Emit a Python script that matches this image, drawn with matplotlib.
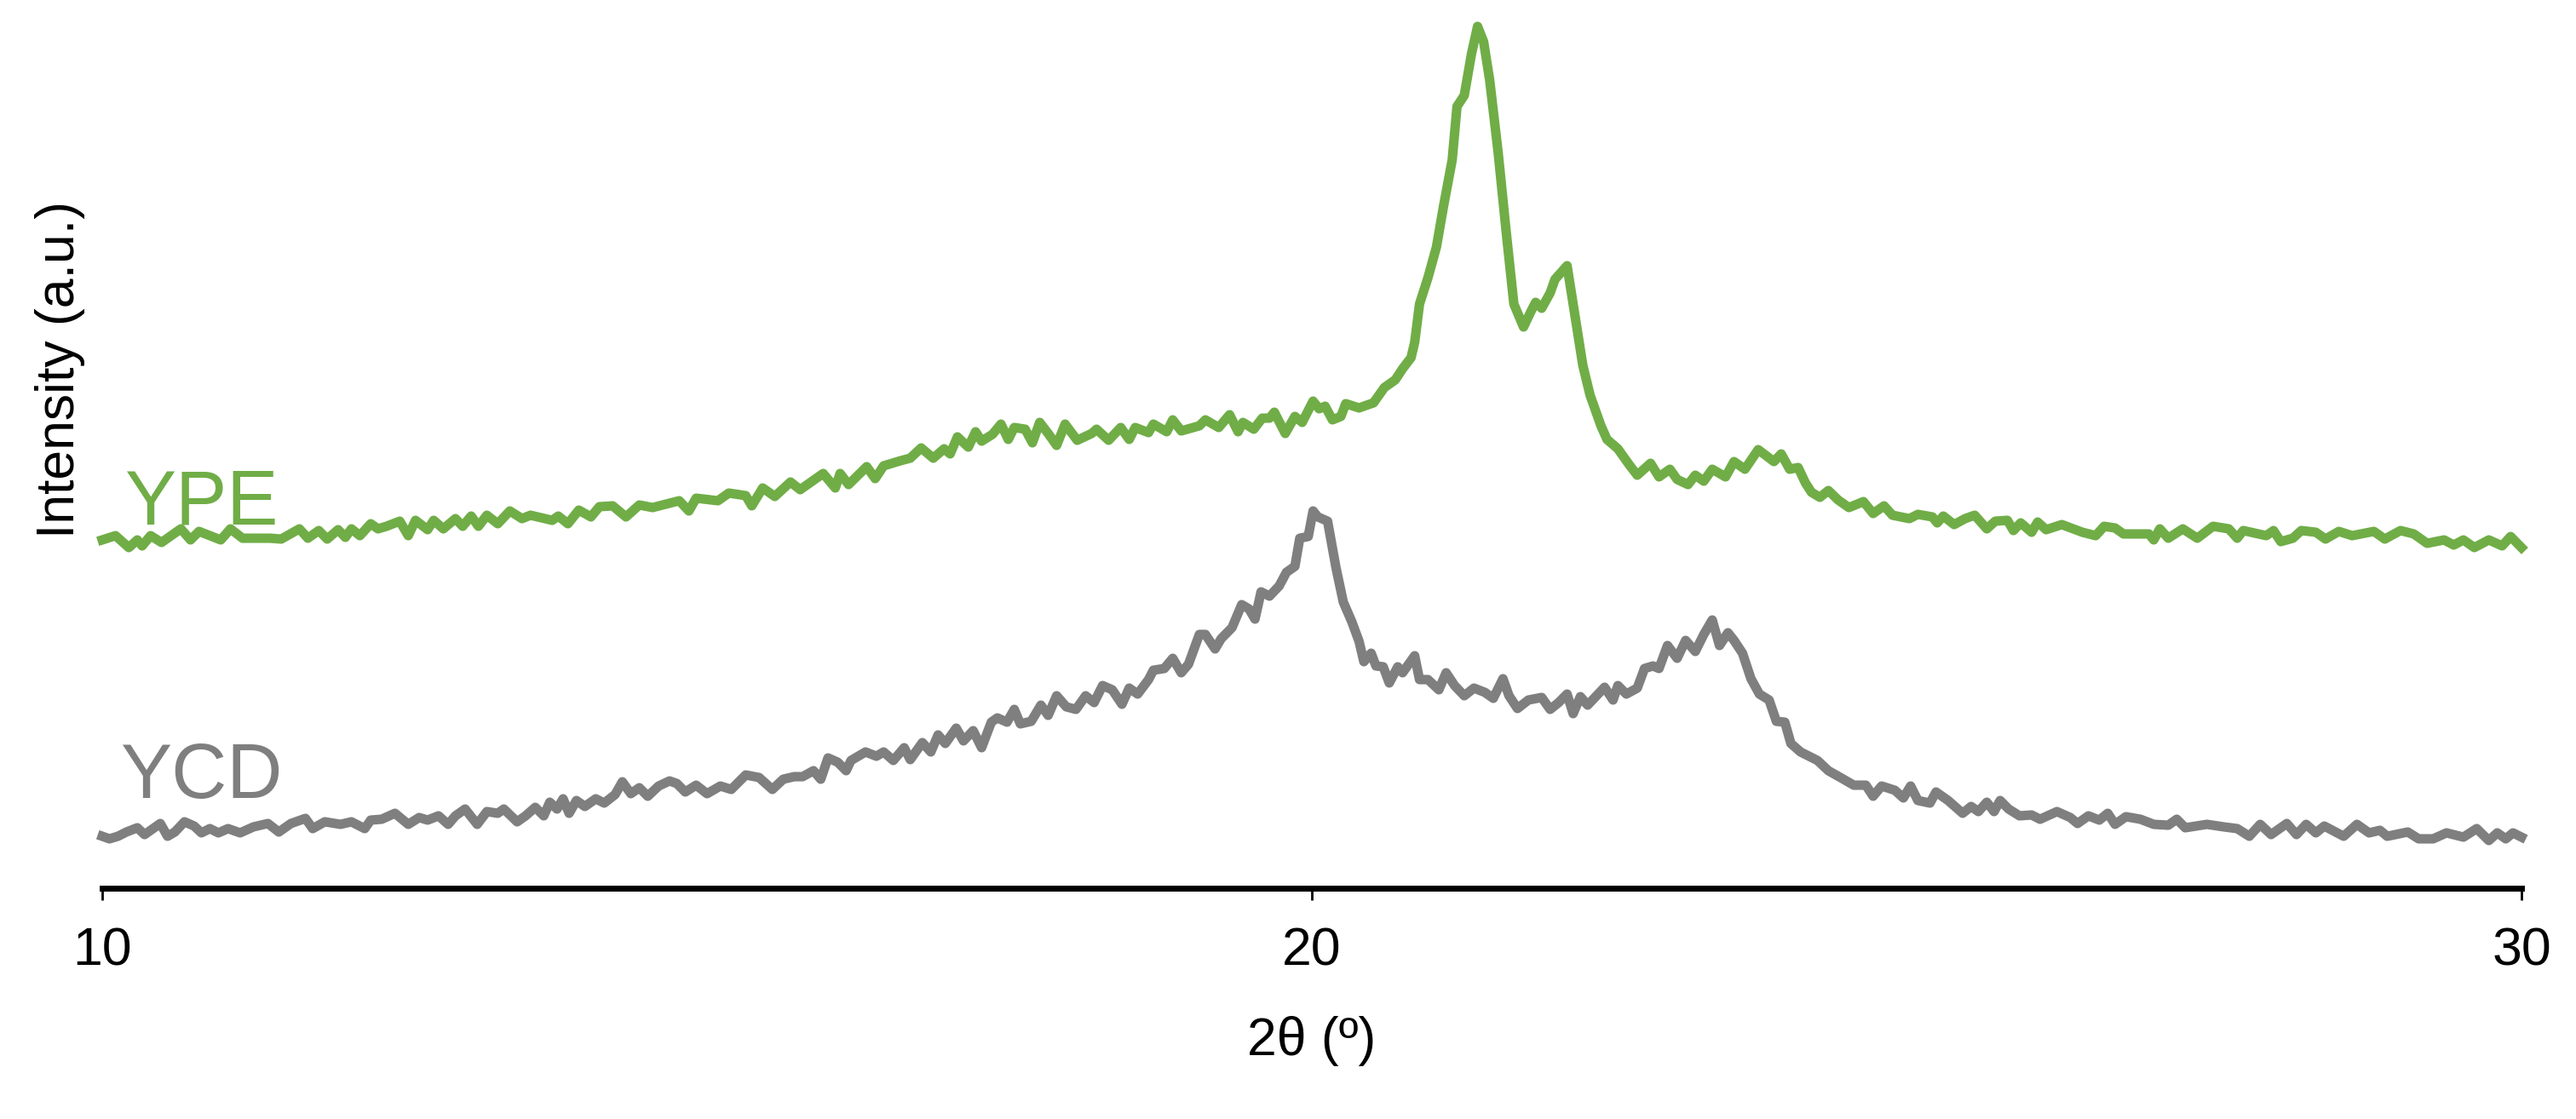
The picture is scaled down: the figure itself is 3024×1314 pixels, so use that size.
import numpy as np
import matplotlib.pyplot as plt

plt.rcParams['font.family'] = ['Liberation Sans', 'DejaVu Sans']

# XRD patterns (2theta in degrees, intensity in a.u.)
ype_2theta = [10.00, 10.11, 10.22, 10.29, 10.33, 10.40, 10.49, 10.65, 10.73, 10.80,
              10.98, 11.06, 11.16, 11.39, 11.48, 11.63, 11.70, 11.79, 11.86, 11.95,
              12.01, 12.06, 12.13, 12.22, 12.28, 12.35, 12.46, 12.53, 12.59, 12.69,
              12.74, 12.82, 12.92, 12.98, 13.05, 13.11, 13.18, 13.27, 13.37, 13.47,
              13.54, 13.72, 13.77, 13.85, 13.94, 14.04, 14.11, 14.22, 14.33, 14.44,
              14.55, 14.77, 14.85, 14.91, 15.09, 15.18, 15.32, 15.37, 15.46, 15.56,
              15.69, 15.77, 15.96, 16.06, 16.10, 16.17, 16.32, 16.39, 16.46, 16.60,
              16.68, 16.77, 16.87, 16.96, 17.01, 17.07, 17.16, 17.22, 17.27, 17.36,
              17.43, 17.49, 17.54, 17.63, 17.69, 17.75, 17.82, 17.89, 17.96, 18.06,
              18.18, 18.22, 18.32, 18.42, 18.49, 18.54, 18.65, 18.69, 18.80, 18.85,
              18.92, 19.07, 19.12, 19.23, 19.32, 19.39, 19.43, 19.52, 19.59, 19.65,
              19.69, 19.78, 19.86, 19.92, 20.01, 20.06, 20.11, 20.17, 20.24, 20.28,
              20.39, 20.51, 20.60, 20.69, 20.75, 20.82, 20.85, 20.89, 20.96, 21.03,
              21.09, 21.16, 21.20, 21.26, 21.32, 21.37, 21.42, 21.47, 21.54, 21.61,
              21.67, 21.75, 21.81, 21.85, 21.90, 21.97, 22.01, 22.11, 22.17, 22.24,
              22.30, 22.39, 22.44, 22.53, 22.62, 22.69, 22.80, 22.87, 22.96, 23.02,
              23.11, 23.17, 23.24, 23.31, 23.42, 23.49, 23.58, 23.69, 23.82, 23.88,
              23.95, 24.02, 24.08, 24.13, 24.20, 24.27, 24.35, 24.44, 24.56, 24.64,
              24.73, 24.80, 24.94, 25.01, 25.13, 25.17, 25.22, 25.31, 25.40, 25.48,
              25.58, 25.65, 25.75, 25.80, 25.86, 25.95, 26.00, 26.07, 26.20, 26.37,
              26.48, 26.55, 26.64, 26.71, 26.92, 26.96, 27.01, 27.08, 27.20, 27.32,
              27.45, 27.58, 27.65, 27.70, 27.89, 27.95, 28.01, 28.11, 28.18, 28.30,
              28.38, 28.49, 28.60, 28.78, 28.87, 29.00, 29.11, 29.22, 29.36, 29.44,
              29.52, 29.61, 29.73, 29.84, 29.91, 30.00]
ype_int = [409, 414, 400, 409, 402, 414, 406, 422, 409, 419,
           409, 422, 411, 411, 410, 422, 411, 420, 410, 421,
           412, 422, 414, 428, 422, 425, 431, 414, 432, 421,
           432, 422, 434, 425, 437, 425, 438, 428, 443, 434,
           438, 432, 437, 428, 444, 436, 448, 449, 436, 450,
           447, 455, 443, 458, 455, 464, 461, 449, 470, 460,
           477, 468, 487, 470, 487, 474, 495, 481, 496, 502,
           505, 517, 505, 516, 510, 530, 518, 536, 525, 533,
           545, 527, 541, 539, 523, 547, 534, 520, 545, 526,
           534, 539, 526, 541, 527, 541, 535, 545, 536, 550,
           537, 543, 550, 541, 556, 536, 547, 539, 552, 552,
           559, 534, 554, 547, 572, 563, 566, 550, 554, 569,
           564, 570, 588, 597, 610, 623, 641, 686, 717, 753,
           802, 855, 918, 931, 980, 1012, 994, 949, 864, 766,
           686, 659, 677, 688, 681, 699, 715, 731, 677, 614,
           579, 543, 527, 516, 498, 485, 499, 483, 492, 480,
           474, 485, 478, 492, 483, 501, 492, 515, 501, 510,
           492, 494, 476, 465, 459, 467, 456, 447, 454, 440,
           449, 438, 434, 439, 436, 429, 437, 427, 434, 438,
           422, 431, 432, 420, 429, 418, 430, 421, 427, 418,
           414, 425, 423, 416, 416, 409, 422, 411, 422, 411,
           425, 422, 411, 420, 414, 420, 407, 411, 420, 418,
           410, 419, 414, 419, 410, 420, 416, 405, 409, 403,
           409, 400, 409, 402, 413, 400]

ycd_2theta = [10.00, 10.06, 10.13, 10.20, 10.29, 10.35, 10.42, 10.48, 10.54, 10.60,
              10.68, 10.76, 10.82, 10.89, 10.96, 11.04, 11.14, 11.25, 11.37, 11.46,
              11.56, 11.68, 11.74, 11.84, 11.97, 12.06, 12.17, 12.22, 12.31, 12.42,
              12.53, 12.62, 12.69, 12.78, 12.86, 12.92, 13.00, 13.10, 13.18, 13.27,
              13.32, 13.43, 13.50, 13.58, 13.65, 13.70, 13.76, 13.81, 13.86, 13.92,
              13.99, 14.08, 14.15, 14.24, 14.30, 14.37, 14.44, 14.51, 14.60, 14.69,
              14.75, 14.82, 14.91, 15.00, 15.11, 15.20, 15.32, 15.43, 15.54, 15.63,
              15.72, 15.79, 15.88, 15.94, 16.00, 16.08, 16.15, 16.19, 16.31, 16.40,
              16.46, 16.54, 16.63, 16.68, 16.78, 16.85, 16.91, 16.97, 17.06, 17.12,
              17.20, 17.27, 17.35, 17.40, 17.48, 17.54, 17.59, 17.68, 17.76, 17.82,
              17.89, 17.97, 18.05, 18.13, 18.20, 18.27, 18.35, 18.43, 18.49, 18.56,
              18.65, 18.69, 18.78, 18.85, 18.92, 18.98, 19.07, 19.12, 19.20, 19.25,
              19.34, 19.42, 19.48, 19.53, 19.58, 19.65, 19.73, 19.79, 19.86, 19.90,
              19.97, 20.01, 20.05, 20.13, 20.20, 20.26, 20.33, 20.39, 20.43, 20.49,
              20.53, 20.59, 20.64, 20.71, 20.75, 20.85, 20.89, 20.96, 21.05, 21.11,
              21.18, 21.26, 21.34, 21.43, 21.50, 21.58, 21.63, 21.70, 21.79, 21.90,
              21.97, 22.04, 22.11, 22.16, 22.22, 22.28, 22.42, 22.49, 22.53, 22.60,
              22.69, 22.75, 22.82, 22.87, 22.94, 23.02, 23.09, 23.17, 23.24, 23.31,
              23.37, 23.44, 23.49, 23.56, 23.63, 23.70, 23.78, 23.84, 23.91, 23.96,
              24.04, 24.18, 24.27, 24.37, 24.48, 24.58, 24.64, 24.71, 24.82, 24.89,
              24.95, 25.01, 25.11, 25.16, 25.26, 25.38, 25.45, 25.51, 25.58, 25.64,
              25.69, 25.76, 25.85, 25.95, 26.02, 26.16, 26.27, 26.33, 26.42, 26.51,
              26.58, 26.64, 26.73, 26.85, 26.96, 27.08, 27.15, 27.22, 27.40, 27.54,
              27.65, 27.75, 27.84, 27.93, 28.06, 28.14, 28.22, 28.30, 28.37, 28.53,
              28.64, 28.74, 28.83, 28.89, 29.06, 29.15, 29.27, 29.38, 29.52, 29.63,
              29.73, 29.80, 29.87, 29.93, 30.00]
ycd_int = [61, 58, 61, 66, 71, 63, 70, 76, 61, 66,
           78, 73, 65, 70, 65, 70, 65, 72, 76, 66,
           76, 82, 70, 78, 75, 78, 70, 80, 81, 88,
           75, 83, 80, 85, 75, 85, 93, 75, 90, 88,
           93, 78, 85, 95, 85, 101, 93, 105, 88, 103,
           96, 105, 100, 110, 125, 111, 118, 108, 120, 126,
           123, 113, 121, 111, 120, 116, 133, 130, 116, 128,
           131, 131, 138, 128, 153, 148, 138, 150, 160, 155,
           160, 150, 165, 151, 171, 160, 180, 170, 188, 173,
           185, 165, 195, 200, 195, 210, 193, 196, 215, 203,
           226, 213, 210, 226, 218, 238, 233, 216, 235, 228,
           245, 256, 258, 270, 253, 263, 298, 298, 281, 293,
           306, 333, 328, 316, 348, 343, 355, 371, 378, 411,
           413, 443, 436, 431, 376, 336, 313, 290, 266, 276,
           261, 260, 241, 260, 253, 273, 245, 245, 233, 253,
           238, 226, 235, 230, 223, 246, 226, 211, 221, 224,
           210, 218, 228, 205, 225, 215, 236, 221, 238, 228,
           235, 258, 261, 258, 285, 270, 291, 278, 298, 315,
           285, 300, 291, 276, 246, 228, 221, 196, 195, 170,
           160, 150, 138, 130, 121, 121, 108, 120, 115, 106,
           120, 103, 100, 113, 103, 88, 96, 90, 101, 90,
           103, 93, 85, 86, 81, 90, 83, 76, 85, 80,
           88, 75, 84, 81, 75, 74, 81, 71, 75, 72,
           70, 61, 75, 63, 76, 63, 75, 65, 73, 61,
           75, 65, 68, 61, 66, 58, 58, 65, 60, 70,
           56, 65, 58, 65, 60]

green = '#70AD47'
gray = '#7F7F7F'

fig = plt.figure(figsize=(30.24, 13.14), dpi=100)
ax = fig.add_axes([120 / 3024, 1 - 1043 / 1314, 2840 / 3024, 1043 / 1314])

ax.plot(ype_2theta, ype_int, color=green, lw=8, solid_joinstyle='round', clip_on=False)
ax.plot(ycd_2theta, ycd_int, color=gray, lw=8, solid_joinstyle='round', clip_on=False)

ax.text(10.18, 428, 'YPE', color=green, fontsize=65, ha='left', va='baseline')
ax.text(10.15, 106, 'YCD', color=gray, fontsize=65, ha='left', va='baseline')

ax.set_xlim(10, 30)
ax.set_ylim(0, 1043)
ax.set_xticks([10, 20, 30])
ax.set_yticks([])
for s in ['top', 'right', 'left']:
    ax.spines[s].set_visible(False)
ax.spines['bottom'].set_linewidth(5)
ax.tick_params(axis='x', direction='out', length=10, width=2, labelsize=45, pad=22)

fig.text(1540 / 3024, 1 - 1222 / 1314, '2θ (º)', fontsize=45, ha='center', va='center')
fig.text(71 / 3024, 1 - 434 / 1314, 'Intensity (a.u.)', fontsize=45, rotation=90,
         ha='center', va='center')

fig.savefig('out.png', dpi=100, facecolor='white')
